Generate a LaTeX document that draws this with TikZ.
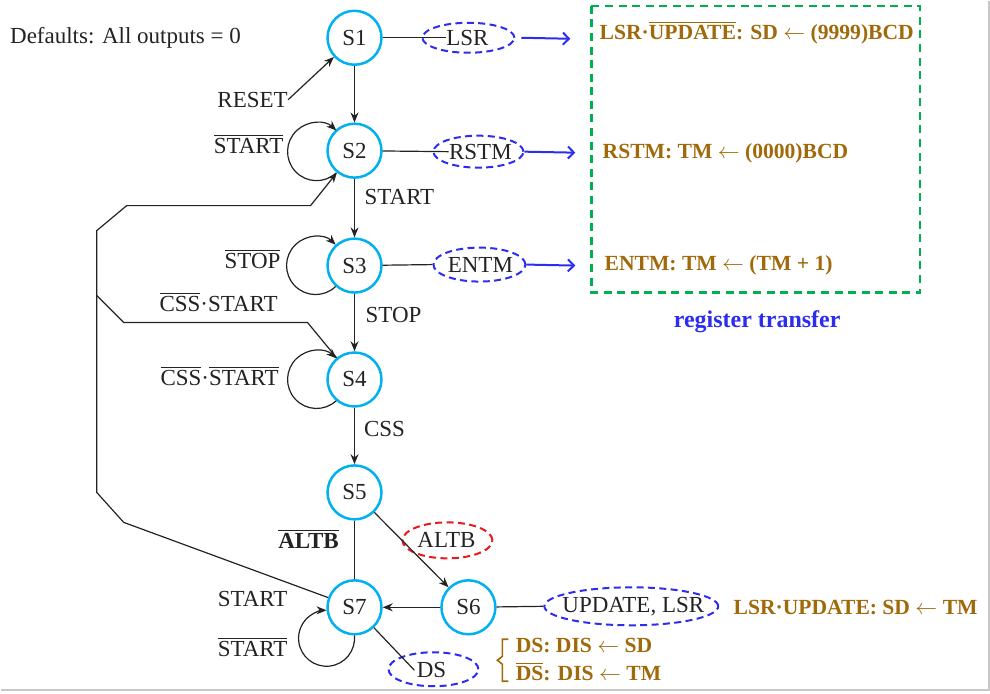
\documentclass[tikz,border=0pt]{standalone}
\usepackage{fontspec}
\setmainfont{Liberation Serif}
\usetikzlibrary{arrows.meta,shapes.geometric}
\definecolor{stcyan}{RGB}{0,176,240}
\definecolor{ellblue}{RGB}{45,45,240}
\definecolor{rtbrown}{RGB}{160,105,10}
\definecolor{boxgreen}{RGB}{0,176,80}
\definecolor{ellred}{RGB}{235,25,25}
\definecolor{ink}{RGB}{35,35,35}
\newcommand{\ob}[1]{$\overline{\mbox{#1}}$}
\newcommand{\la}{$\leftarrow$}
\begin{document}
\begin{tikzpicture}[x=0.5pt,y=-0.5pt,
  every node/.style={font=\fontsize{11.5}{14}\selectfont, text=ink, inner sep=0pt},
  state/.style={circle, draw=stcyan, line width=1.25pt, minimum size=27pt},
  outell/.style={ellipse, draw=ellblue, line width=1pt, dash pattern=on 3.5pt off 2.2pt, inner sep=0pt},
  redell/.style={outell, draw=ellred},
  conn/.style={draw=ink, line width=0.6pt},
  arr/.style={conn, -{Stealth[length=5pt,width=4pt]}},
  barr/.style={draw=ellblue, line width=1pt, -{Straight Barb[length=3pt,width=6pt]}},
  rt/.style={font=\fontsize{10.8}{13}\selectfont\bfseries, text=rtbrown},
]
\fill[white] (0,0) rectangle (990,693);
\draw[black!22, line width=0.8pt] (989,0) -- (989,690) -- (0,690);

% title
\node[anchor=base west] (deflt) at (9,43) {Defaults: All outputs = 0};

% states
\node[state] (S1) at (354,37) {S1};
\node[state] (S2) at (354,150) {S2};
\node[state] (S3) at (354,265) {S3};
\node[state] (S4) at (354,379) {S4};
\node[state] (S5) at (354,492) {S5};
\node[state] (S7) at (354,607) {S7};
\node[state] (S6) at (468,607) {S6};

% self loops
\coordinate (L2) at (316,151);
\coordinate (L3) at (315,265);
\coordinate (L4) at (316,379);
\coordinate (L7) at (326,638);
\draw[arr] ([shift={(47:29)}]L2) arc[start angle=47, end angle=313, radius=29];
\draw[arr] ([shift={(46:29)}]L3) arc[start angle=46, end angle=314, radius=29];
\draw[arr] ([shift={(47:29)}]L4) arc[start angle=47, end angle=313, radius=29];
\draw[arr] ([shift={(-6:28)}]L7) arc[start angle=-6, end angle=270, radius=28];

% labels
\node (RESET) at (252,99) {RESET};
\node[anchor=base] (nstart2) at (248,153) {\ob{START}};
\node[anchor=base] (start23) at (399,204) {START};
\node[anchor=base] (nstop) at (252,268) {\ob{STOP}};
\node[anchor=base] (cssstart) at (218,311) {\ob{CSS}·START};
\node[anchor=base] (cssnstart) at (219,385) {\ob{CSS}·\ob{START}};
\node[anchor=base] (stop34) at (393,322) {STOP};
\node[anchor=base] (css45) at (384,436) {CSS};
\node[anchor=base] (naltb) at (308,548) {\bfseries\ob{ALTB}};
\node[anchor=base] (start7) at (252,606) {START};
\node[anchor=base] (nstart7) at (252,656) {\ob{START}};

% output ellipses (shape) and their texts
\node[outell, minimum width=46pt, minimum height=15pt] (LSRe) at (468,37) {};
\node (LSR) at (467,37) {LSR};
\node[outell, minimum width=45pt, minimum height=16pt] (RSTMe) at (478,151) {};
\node (RSTM) at (480,151) {RSTM};
\node[outell, minimum width=46pt, minimum height=17pt] (ENTMe) at (479,264) {};
\node (ENTM) at (480,264) {ENTM};
\node[outell, minimum width=87pt, minimum height=19pt] (UPDe) at (631,606) {};
\node (UPD) at (633,606) {UPDATE, LSR};
\node[outell, minimum width=45pt, minimum height=17pt] (DSe) at (433,669) {};
\node (DS) at (431,670) {DS};
\node[redell, minimum width=45pt, minimum height=18pt] (ALTBe) at (447,540) {};
\node (ALTB) at (446,540) {ALTB};

% transitions
\draw[arr] (RESET.east) -- (S1);
\draw[arr] (S1) -- (S2);
\draw[arr] (S2) -- (S3);
\draw[arr] (S3) -- (S4);
\draw[arr] (S4) -- (S5);
\draw[conn] (S5) -- (S7);
\draw[arr] (S5) -- (S6);
\draw[arr] (S6) -- (S7);

\coordinate (b1) at (123,522);
\coordinate (b2) at (96,492);
\coordinate (b3) at (96,230);
\coordinate (b4) at (126,205);
\coordinate (b5) at (310,205);
\draw[arr] (S7) -- (b1) -- (b2) -- (b3) -- (b4) -- (b5) -- (S2);
\coordinate (j1) at (96,295);
\coordinate (k1) at (123,322);
\coordinate (k2) at (307,322);
\draw[conn] (j1) -- (k1) -- (k2) -- (S4);

% output connections
\draw[conn] (S1) -- (LSR.west);
\draw[conn] (S2) -- (RSTM.west);
\draw[conn] (S3) -- (ENTMe.west);
\draw[conn] (S6) -- (UPDe.west);
\draw[conn] (S7) -- ([xshift=-1pt]DS.west);

% register transfer box
\coordinate (t1) at (570,38);
\coordinate (t2) at (575,152);
\coordinate (t3) at (575,265);
\draw[barr] ([xshift=3pt]LSRe.east) -- (t1);
\draw[barr] (RSTMe.east) -- (t2);
\draw[barr] (ENTMe.east) -- (t3);
\draw[boxgreen, line width=1.2pt, dash pattern=on 4pt off 2.8pt] (591,5) rectangle (920,292);
\node[rt, anchor=base west] (rt1) at (599,39) {LSR·\ob{UPDATE}: SD \la{} (9999)BCD};
\node[rt, anchor=base west] (rt2) at (602,158) {RSTM: TM \la{} (0000)BCD};
\node[rt, anchor=base west] (rt3) at (604,270) {ENTM: TM \la{} (TM + 1)};
\node[anchor=base, font=\fontsize{12}{14}\selectfont\bfseries, text=ellblue] (rtitle) at (757,327) {register transfer};

% bottom register transfers
\node[rt, anchor=base west] (rt4) at (733,614) {LSR·UPDATE: SD \la{} TM};
\node[rt, anchor=base west] (rt5) at (515,652) {DS: DIS \la{} SD};
\node[rt, anchor=base west] (rt6) at (515,680) {\ob{DS}: DIS \la{} TM};
\draw[rtbrown, line width=0.8pt] (508,639) -- (502,639) -- (502,656) -- (497,660) -- (502,664) -- (502,681) -- (508,681);
\end{tikzpicture}
\end{document}
